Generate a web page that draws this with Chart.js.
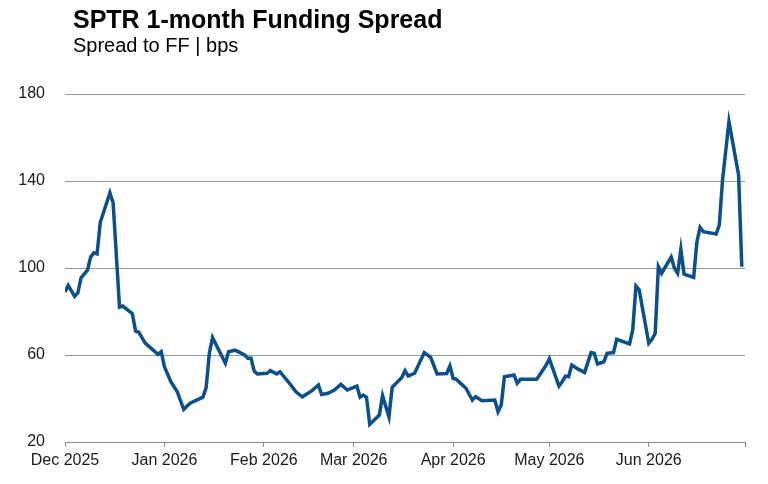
<!DOCTYPE html>
<html>
<head>
<meta charset="utf-8">
<script src="https://cdn.jsdelivr.net/npm/chart.js@4"></script>
<style>
  html, body { margin: 0; padding: 0; background: #fff; }
  #wrap { position: relative; width: 768px; height: 484px; font-family: "Liberation Sans", Arial, sans-serif; color: #000; }
  #title { position: absolute; left: 73px; top: 5px; font-size: 25px; font-weight: bold; white-space: nowrap; }
  #subtitle { position: absolute; left: 73px; top: 34px; font-size: 20px; white-space: nowrap; }
  #chart { position: absolute; left: 0; top: 0; }
</style>
</head>
<body>
<div id="wrap">
  <canvas id="chart" width="768" height="484"></canvas>
  <div id="title">SPTR 1-month Funding Spread</div>
  <div id="subtitle">Spread to FF | bps</div>
</div>
<script>
// Data
const startDate = "2025-12-01";
const dates = [
  "2025-12-01", "2025-12-02", "2025-12-04", "2025-12-05", "2025-12-06", "2025-12-08", "2025-12-09", "2025-12-10",
  "2025-12-11", "2025-12-12", "2025-12-15", "2025-12-16", "2025-12-18", "2025-12-19", "2025-12-22", "2025-12-23",
  "2025-12-24", "2025-12-26", "2025-12-30", "2025-12-31",
  "2026-01-01", "2026-01-03", "2026-01-05", "2026-01-07", "2026-01-09", "2026-01-13", "2026-01-14", "2026-01-15",
  "2026-01-16", "2026-01-20", "2026-01-21", "2026-01-23", "2026-01-26", "2026-01-27", "2026-01-28", "2026-01-29",
  "2026-01-30",
  "2026-02-02", "2026-02-03", "2026-02-05", "2026-02-06", "2026-02-09", "2026-02-11", "2026-02-13", "2026-02-16",
  "2026-02-18", "2026-02-19", "2026-02-21", "2026-02-23", "2026-02-25", "2026-02-27",
  "2026-03-02", "2026-03-03", "2026-03-04", "2026-03-05", "2026-03-06", "2026-03-09", "2026-03-10", "2026-03-12",
  "2026-03-13", "2026-03-16", "2026-03-17", "2026-03-18", "2026-03-20", "2026-03-23", "2026-03-25", "2026-03-27",
  "2026-03-30", "2026-03-31",
  "2026-04-01", "2026-04-02", "2026-04-05", "2026-04-07", "2026-04-08", "2026-04-10", "2026-04-14", "2026-04-15",
  "2026-04-16", "2026-04-17", "2026-04-20", "2026-04-21", "2026-04-22", "2026-04-27", "2026-04-28", "2026-04-30",
  "2026-05-01", "2026-05-04", "2026-05-05", "2026-05-06", "2026-05-07", "2026-05-08", "2026-05-10", "2026-05-12",
  "2026-05-14", "2026-05-15", "2026-05-16", "2026-05-18", "2026-05-19", "2026-05-21", "2026-05-22", "2026-05-26",
  "2026-05-27", "2026-05-28", "2026-05-29",
  "2026-06-01", "2026-06-02", "2026-06-03", "2026-06-04", "2026-06-05", "2026-06-08", "2026-06-09", "2026-06-10",
  "2026-06-11", "2026-06-12", "2026-06-15", "2026-06-16", "2026-06-17", "2026-06-18", "2026-06-22", "2026-06-23",
  "2026-06-24", "2026-06-26", "2026-06-29", "2026-06-30"
];
const spread = [
  89, 92, 87, 88.5, 95.5, 99, 105, 107, 106.5, 121, 134.5, 130, 82, 82.5, 79, 71, 70.5, 65.5, 60.3, 61.5,
  54.6, 47.7, 43.1, 35, 37.8, 40.6, 45, 60.8, 68, 56.2, 61.5, 62.2, 60, 58.5, 58.5, 52.5, 51.3,
  51.6, 52.8, 51.3, 52.3, 47, 43.1, 40.8, 43.6, 46.2, 41.8, 42.4, 43.9, 46.5, 43.9,
  45.7, 40.6, 41.6, 40.6, 28.1, 32.4, 41.3, 31.6, 45.1, 49.7, 52.8, 50.3, 51.6, 61.1, 58.9, 51.3, 51.5, 55,
  49.3, 48.8, 44.7, 39.3, 40.8, 39, 39.3, 33.9, 37, 50, 50.8, 47, 48.8, 48.8, 50.8, 55.4,
  58.2, 45.7, 47.7, 50.3, 50, 55.4, 53.5, 52, 61.1, 60.8, 55.9, 56.9, 60.8, 61.1, 67.2, 65.1, 71.5, 91.7, 90,
  65.4, 67.2, 70, 100.6, 97.6, 105, 99.9, 97.6, 108.6, 97.2, 95.7, 112, 118.7, 116.7, 115.6, 119.8, 140.5, 167.3, 142.8, 100.6
];
const monthTicks = ["2025-12-01", "2026-01-01", "2026-02-01", "2026-03-01", "2026-04-01", "2026-05-01", "2026-06-01", "2026-07-01"];
const monthLabels = ["Dec 2025", "Jan 2026", "Feb 2026", "Mar 2026", "Apr 2026", "May 2026", "Jun 2026", ""];
const yTicks = [20, 60, 100, 140, 180];

// days since start, so a plain linear axis can be used (no date adapter)
function dayOf(d) {
  return (Date.parse(d + "T00:00:00Z") - Date.parse(startDate + "T00:00:00Z")) / 86400000;
}
const tickDays = monthTicks.map(dayOf);
const points = dates.map((d, i) => ({ x: dayOf(d), y: spread[i] }));

const tickFont = { family: "'Liberation Sans', Arial, sans-serif", size: 16 };

new Chart(document.getElementById("chart"), {
  type: "line",
  data: {
    datasets: [{
      data: points,
      borderColor: "#0b4f8c",
      borderWidth: 3.5,
      pointRadius: 0,
      tension: 0,
      fill: false
    }]
  },
  options: {
    responsive: false,
    animation: false,
    layout: { padding: { left: 0, right: 23, top: 94, bottom: 0 } },
    plugins: { legend: { display: false }, tooltip: { enabled: false } },
    scales: {
      x: {
        type: "linear",
        min: tickDays[0],
        max: tickDays[tickDays.length - 1],
        afterBuildTicks: s => { s.ticks = tickDays.map(v => ({ value: v })); },
        afterFit: s => { s.height = 42; },
        ticks: {
          autoSkip: false,
          maxRotation: 0,
          padding: 4,
          color: "#1a1a1a",
          font: tickFont,
          callback: v => monthLabels[tickDays.indexOf(v)]
        },
        grid: { drawOnChartArea: false, drawTicks: true, tickLength: 5, color: "#8c8c8c" },
        border: { display: true, color: "#8c8c8c", width: 1 }
      },
      y: {
        min: 20,
        max: 180,
        afterBuildTicks: s => { s.ticks = yTicks.map(v => ({ value: v })); },
        afterFit: s => { s.width = 65; },
        ticks: { padding: 20, color: "#1a1a1a", font: tickFont },
        grid: { drawTicks: false, color: "#9a9a9a", lineWidth: 1 },
        border: { display: false }
      }
    }
  }
});
</script>
</body>
</html>
